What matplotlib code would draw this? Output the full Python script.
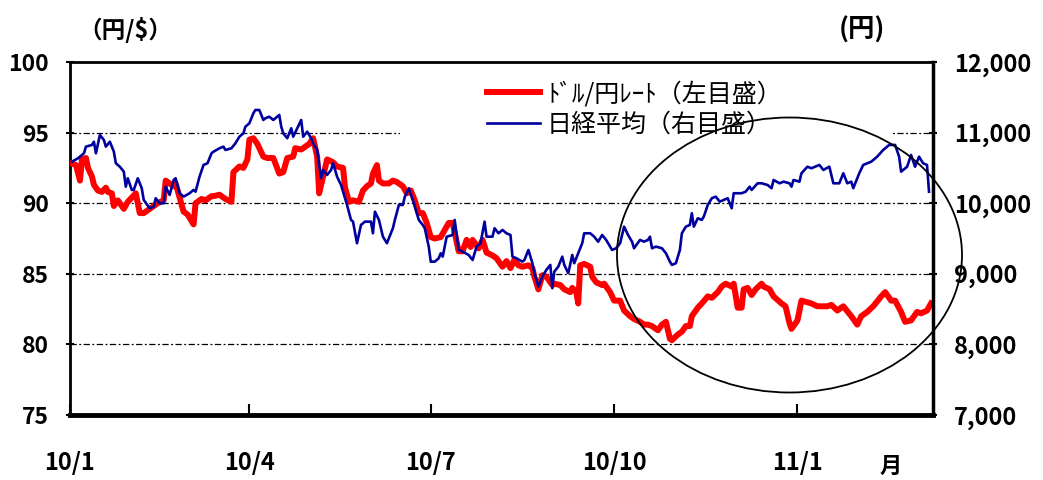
import numpy as np
import pandas as pd
import matplotlib
matplotlib.use("Agg")
import matplotlib.pyplot as plt
from matplotlib.patches import Ellipse, Rectangle

plt.rcParams['font.family'] = ['Noto Sans CJK JP', 'DejaVu Sans']

# days counted from 2010-01-01
start = pd.Timestamp('2010-01-01')

usd_day = [1, 3, 5, 6, 8, 9, 11, 12, 14, 16, 18, 19, 21, 22, 24, 26, 27, 29, 31, 33,
           35, 37, 39, 42, 44, 47, 48, 50, 52, 53, 55, 57, 59, 62, 63, 66, 68, 71, 72, 75,
           78, 81, 82, 85, 87, 89, 90, 92, 94, 97, 99, 102, 105, 107, 109, 112, 113, 116, 118, 120,
           122, 124, 125, 127, 129, 132, 134, 137, 138, 140, 142, 145, 147, 149, 151, 152, 154, 155, 157, 160,
           162, 164, 167, 169, 171, 173, 175, 177, 179, 181, 183, 186, 188, 190, 192, 195, 197, 199, 201, 202,
           205, 207, 209, 212, 214, 217, 219, 221, 223, 225, 227, 230, 232, 233, 235, 237, 239, 242, 243, 246,
           248, 251, 252, 254, 255, 256, 258, 261, 262, 264, 267, 268, 271, 273, 276, 278, 281, 283, 286, 288,
           290, 292, 295, 297, 299, 301, 302, 305, 307, 309, 311, 312, 315, 317, 320, 322, 325, 327, 329, 332,
           333, 335, 337, 338, 340, 342, 344, 347, 348, 351, 353, 357, 359, 361, 362, 365, 367, 372, 375, 380,
           382, 385, 388, 392, 395, 397, 400, 403, 407, 409, 412, 414, 417, 419, 422, 425, 427, 430, 432]
usd_jpy = [92.8, 92.7, 91.6, 93.1, 93.2, 92.5, 91.9, 91.3, 90.9, 90.8, 91.1, 90.8, 90.7, 89.8, 90.2, 89.8, 89.6, 90.1, 90.4, 90.7,
           89.3, 89.3, 89.5, 89.8, 90.0, 90.2, 91.6, 91.4, 91.2, 91.4, 90.4, 89.4, 89.2, 88.5, 90.0, 90.3, 90.2, 90.5, 90.5, 90.6,
           90.3, 90.1, 92.2, 92.6, 92.5, 93.1, 94.5, 94.6, 94.2, 93.3, 93.2, 93.2, 92.1, 92.2, 93.2, 93.3, 93.9, 93.8, 94.0, 94.2,
           94.6, 93.3, 90.7, 91.9, 93.1, 92.9, 92.6, 92.5, 91.1, 90.1, 90.2, 90.1, 90.9, 91.2, 91.4, 92.1, 92.7, 91.6, 91.4, 91.4,
           91.6, 91.5, 91.2, 90.7, 90.9, 90.2, 89.3, 89.3, 88.6, 87.6, 87.5, 87.6, 88.1, 88.6, 88.6, 86.6, 86.6, 87.4, 86.9, 87.4,
           86.8, 87.4, 86.5, 86.3, 86.1, 85.5, 85.9, 85.4, 86.0, 85.6, 85.5, 85.6, 85.4, 84.8, 83.9, 84.9, 84.8, 84.2, 84.3, 84.2,
           83.9, 83.7, 84.0, 83.7, 82.9, 85.6, 85.7, 85.5, 84.8, 84.4, 84.2, 84.3, 83.7, 83.1, 83.1, 82.4, 82.0, 81.8, 81.6, 81.4,
           81.4, 81.3, 81.0, 81.4, 81.6, 80.4, 80.3, 80.7, 80.9, 81.3, 81.3, 82.0, 82.6, 82.9, 83.4, 83.3, 83.7, 84.1, 84.3, 84.1,
           84.3, 82.6, 82.6, 83.9, 84.0, 83.5, 83.9, 84.3, 84.1, 83.9, 83.4, 82.9, 82.7, 81.5, 81.1, 81.7, 83.1, 82.9, 82.7, 82.7,
           82.8, 82.4, 82.7, 82.0, 81.4, 82.0, 82.3, 82.7, 83.4, 83.7, 83.1, 83.1, 82.3, 81.6, 81.7, 82.3, 82.2, 82.4, 82.9]

nk_day = [1, 4, 7, 8, 11, 12, 13, 15, 17, 18, 20, 22, 23, 25, 27, 28, 29, 31, 32, 34,
          36, 37, 40, 42, 43, 45, 47, 48, 50, 52, 53, 55, 57, 60, 62, 63, 65, 67, 69, 71,
          72, 75, 77, 78, 81, 83, 85, 87, 88, 90, 92, 93, 95, 97, 98, 100, 102, 103, 105, 106,
          107, 109, 111, 112, 114, 116, 117, 119, 121, 122, 124, 126, 127, 129, 131, 132, 134, 136, 137, 139,
          141, 142, 144, 146, 148, 151, 152, 153, 155, 157, 159, 162, 163, 165, 167, 168, 170, 172, 175, 177,
          178, 180, 181, 183, 185, 186, 187, 189, 192, 193, 195, 197, 200, 202, 204, 206, 208, 209, 212, 213,
          215, 217, 219, 221, 222, 224, 227, 228, 230, 232, 233, 235, 237, 239, 241, 242, 243, 245, 247, 248,
          250, 252, 253, 255, 257, 258, 261, 263, 265, 267, 269, 272, 274, 276, 278, 280, 282, 283, 286, 288,
          290, 291, 292, 294, 297, 299, 301, 302, 304, 306, 307, 309, 311, 312, 313, 315, 317, 318, 320, 322,
          324, 326, 328, 330, 332, 333, 337, 339, 341, 342, 345, 347, 350, 352, 353, 356, 358, 361, 362, 363,
          366, 367, 370, 372, 376, 378, 381, 383, 386, 388, 390, 392, 393, 396, 398, 402, 405, 408, 411, 414,
          416, 417, 420, 422, 424, 426, 428, 430, 431]
nikkei = [10588, 10636, 10707, 10801, 10825, 10871, 10707, 10966, 10896, 10801, 10871, 10730, 10566, 10517, 10447, 10234, 10353, 10188, 10188, 10353,
          10212, 10046, 9928, 9951, 10070, 9999, 9999, 10234, 10117, 10329, 10353, 10141, 10093, 10141, 10188, 10163, 10376, 10542, 10566, 10707,
          10730, 10778, 10801, 10754, 10778, 10849, 10942, 10990, 11084, 11132, 11274, 11320, 11320, 11179, 11203, 11225, 11179, 11203, 11250, 11084,
          10990, 10920, 11061, 10942, 11061, 11179, 10942, 11013, 10920, 10849, 10754, 10353, 10471, 10400, 10471, 10566, 10376, 10258, 10163, 9975,
          9763, 9739, 9433, 9692, 9739, 9739, 9574, 9880, 9763, 9526, 9433, 9645, 9763, 9975, 9975, 10093, 10212, 10046, 9763, 9692,
          9645, 9385, 9172, 9172, 9220, 9291, 9243, 9526, 9550, 9763, 9338, 9314, 9267, 9196, 9385, 9433, 9739, 9526, 9526, 9645,
          9574, 9621, 9574, 9550, 9243, 9220, 9172, 9196, 9338, 9150, 9008, 8818, 8960, 9055, 9126, 8796, 9031, 9102, 9243, 9126,
          9008, 9267, 9150, 9291, 9433, 9574, 9574, 9526, 9455, 9550, 9480, 9338, 9362, 9433, 9668, 9550, 9455, 9362, 9480, 9455,
          9480, 9526, 9362, 9385, 9362, 9291, 9172, 9126, 9150, 9338, 9574, 9668, 9692, 9858, 9668, 9787, 9763, 9810, 9975, 10070,
          10093, 10022, 10046, 10070, 9928, 10141, 10141, 10163, 10234, 10188, 10282, 10282, 10258, 10212, 10329, 10282, 10305, 10282, 10234, 10329,
          10305, 10424, 10517, 10495, 10542, 10471, 10517, 10282, 10282, 10424, 10282, 10305, 10212, 10424, 10542, 10588, 10659, 10754, 10825, 10825,
          10659, 10447, 10517, 10683, 10517, 10659, 10566, 10542, 10163]

xtick_dates = ['2010-01-01', '2010-04-01', '2010-07-01', '2010-10-01', '2011-01-01']
xtick_labels = ['10/1', '10/4', '10/7', '10/10', '11/1']
left_ticks = [75, 80, 85, 90, 95, 100]
right_ticks = [7000, 8000, 9000, 10000, 11000, 12000]
legend_labels = ['ﾄﾞﾙ/円ﾚｰﾄ（左目盛）', '日経平均（右目盛）']

usd_dates = start + pd.to_timedelta(usd_day, unit='D')
nk_dates = start + pd.to_timedelta(nk_day, unit='D')

fig = plt.figure(figsize=(10.43, 4.8), dpi=100)
ax = fig.add_axes([70 / 1043, 1 - 415 / 480, 863 / 1043, 353 / 480])
ax2 = ax.twinx()

red_line, = ax.plot(usd_dates, usd_jpy, color='#ff0000', lw=4.3, solid_joinstyle='round', zorder=3)
blue_line, = ax2.plot(nk_dates, nikkei, color='#0000a0', lw=1.9, zorder=3)

ax.set_xlim(start, start + pd.Timedelta(days=433))
ax.set_ylim(left_ticks[0], left_ticks[-1])
ax2.set_ylim(right_ticks[0], right_ticks[-1])

# dash-dot grid at the inner ticks
for v in left_ticks[1:-1]:
    ax.axhline(v, color='black', lw=0.9, ls=(0, (5, 2, 1.5, 2)), zorder=1)

ax.set_yticks(left_ticks, [str(v) for v in left_ticks], fontsize=16.5, fontweight='bold')
ax2.set_yticks(right_ticks, ['{:,}'.format(v) for v in right_ticks], fontsize=17, fontweight='bold')
ax.set_xticks(pd.to_datetime(xtick_dates), xtick_labels, fontsize=17, fontweight='bold')

ax.tick_params(axis='y', direction='inout', length=6, width=1.5, pad=12)
ax2.tick_params(axis='y', direction='inout', length=6, width=1.5, pad=12)
ax.tick_params(axis='x', direction='in', length=8, width=1.5, pad=26)

for s in ['left', 'top', 'right']:
    ax.spines[s].set_linewidth(2)
ax.spines['bottom'].set_linewidth(3.5)
for s in ['left', 'top', 'bottom']:
    ax2.spines[s].set_visible(False)
ax2.spines['right'].set_linewidth(2.5)

# white box behind the legend hides the grid there
ax2.add_patch(Rectangle((0.382, 0.779), 0.572, 0.21, transform=ax2.transAxes,
                        facecolor='white', edgecolor='none', zorder=1))

ax2.legend([red_line, blue_line], legend_labels, loc='upper left',
           bbox_to_anchor=(487 / 1043, 1 - 81 / 480), bbox_transform=fig.transFigure,
           frameon=False, fontsize=18, handlelength=2.1, handletextpad=0.3,
           labelspacing=0.2, borderpad=0, borderaxespad=0)

fig.text(125 / 1043, 1 - 30 / 480, '（円/$）', ha='center', va='center', fontsize=17, fontweight='bold')
fig.text(862 / 1043, 1 - 30 / 480, '(円)', ha='center', va='center', fontsize=19, fontweight='bold')
fig.text(891 / 1043, 1 - 466 / 480, '月', ha='center', va='center', fontsize=16, fontweight='bold')

fig.add_artist(Ellipse((789.5 / 1043, 1 - 255 / 480), 345 / 1043, 275 / 480,
                       transform=fig.transFigure, fill=False, edgecolor='black', lw=1.3))

fig.savefig('out.png', dpi=100)
